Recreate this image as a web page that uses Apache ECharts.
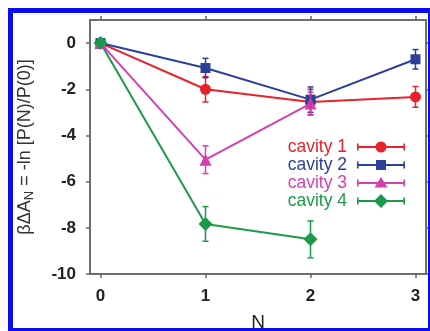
<!DOCTYPE html>
<html>
<head>
<meta charset="utf-8">
<script src="https://cdn.jsdelivr.net/npm/echarts@6/dist/echarts.min.js"></script>
<style>
html, body { margin: 0; padding: 0; background: #fff; }
#chart { width: 430px; height: 331px; }
#frame { position: absolute; left: 8px; top: 8px; width: 415px; height: 315px; border: 5px solid #0b0bf0; pointer-events: none; }
</style>
</head>
<body>
<div id="chart"></div>
<div id="frame"></div>
<script>
var nValues = [0, 1, 2, 3];
var xTicks = [0, 1, 2, 3];
var yTicks = [-10, -8, -6, -4, -2, 0];
var seriesNames = ['cavity 1', 'cavity 2', 'cavity 3', 'cavity 4'];
var cavity1 = [0, -2.0, -2.55, -2.33];
var cavity1Err = [0, 0.55, 0.55, 0.45];
var cavity2 = [0, -1.08, -2.45, -0.7];
var cavity2Err = [0, 0.42, 0.55, 0.42];
var cavity3 = [0, -5.05, -2.62];
var cavity3Err = [0, 0.6, 0.5];
var cavity4 = [0, -7.83, -8.5];
var cavity4Err = [0, 0.75, 0.8];

var colors = ['#e8222a', '#2d3f98', '#d63fae', '#1c9a4a'];
var font = "'Liberation Sans', Arial, sans-serif";

// legend icons: line with end caps and the marker in the middle
var base = 'M0,0 M53,14 M5,6 L53,6 L53,8 L5,8 Z M5,3.5 L6.6,3.5 L6.6,10.5 L5,10.5 Z M51.4,3.5 L53,3.5 L53,10.5 L51.4,10.5 Z ';
var icons = [
  'path://' + base + 'M23.5,7 A5.5,5.5 0 1,1 34.5,7 A5.5,5.5 0 1,1 23.5,7 Z',
  'path://' + base + 'M24,2 L34,2 L34,12 L24,12 Z',
  'path://' + base + 'M29,1 L35.5,11.5 L22.5,11.5 Z',
  'path://' + base + 'M29,0 L36,7 L29,14 L22,7 Z'
];
var symbols = ['circle', 'rect', 'triangle', 'diamond'];
var symbolSizes = [11, 10, 12, 14];

function pairs(values) {
  var out = [];
  for (var i = 0; i < values.length; i++) out.push([nValues[i], values[i]]);
  return out;
}

function lineSeries(i, values) {
  return {
    type: 'line',
    name: seriesNames[i],
    data: pairs(values),
    symbol: symbols[i],
    symbolSize: symbolSizes[i],
    xAxisIndex: 0,
    yAxisIndex: 0,
    lineStyle: { width: 2, color: colors[i] },
    itemStyle: { color: colors[i] },
    z: 2
  };
}

function errorBars(i, values, errs) {
  var data = [];
  for (var k = 0; k < values.length; k++) {
    if (errs[k] > 0) data.push([nValues[k], values[k] - errs[k], values[k] + errs[k]]);
  }
  var color = colors[i];
  return {
    type: 'custom',
    name: seriesNames[i] + ' err',
    data: data,
    silent: true,
    z: 3,
    xAxisIndex: 0,
    yAxisIndex: 0,
    encode: { x: 0, y: [1, 2] },
    renderItem: function (params, api) {
      var lo = api.coord([api.value(0), api.value(1)]);
      var hi = api.coord([api.value(0), api.value(2)]);
      var w = 3;
      var st = { stroke: color, lineWidth: 1.5, fill: null };
      return {
        type: 'group',
        children: [
          { type: 'line', shape: { x1: lo[0], y1: lo[1], x2: hi[0], y2: hi[1] }, style: st },
          { type: 'line', shape: { x1: lo[0] - w, y1: lo[1], x2: lo[0] + w, y2: lo[1] }, style: st },
          { type: 'line', shape: { x1: hi[0] - w, y1: hi[1], x2: hi[0] + w, y2: hi[1] }, style: st }
        ]
      };
    }
  };
}

var axisLine = { show: true, onZero: false, lineStyle: { color: '#666', width: 1.5 } };
var tickStyle = { color: '#666', width: 1.5 };
var labelStyle = { fontSize: 17, fontWeight: 'bold', color: '#222', fontFamily: font };

var chart = echarts.init(document.getElementById('chart'));
var option = {
  animation: false,
  grid: {
    left: 90, top: 20, right: 4, bottom: 57,
    outerBoundsMode: 'none', containLabel: false,
    show: true, borderColor: '#666', borderWidth: 1.5
  },
  xAxis: [
    {
      type: 'value', min: -0.1, max: 3.1, position: 'bottom',
      axisLine: axisLine,
      axisTick: { show: true, inside: false, length: 4, customValues: xTicks, lineStyle: tickStyle },
      axisLabel: Object.assign({ customValues: xTicks, margin: 14 }, labelStyle),
      splitLine: { show: false },
      name: 'N', nameLocation: 'middle', nameGap: 39,
      nameTextStyle: { fontSize: 19, color: '#222', fontFamily: font }
    },
    {
      type: 'value', min: -0.1, max: 3.1, position: 'top',
      axisLine: axisLine,
      axisTick: { show: true, inside: false, length: 4, customValues: xTicks, lineStyle: tickStyle },
      axisLabel: { show: false },
      splitLine: { show: false }
    }
  ],
  yAxis: [
    {
      type: 'value', min: -10, max: 1, position: 'left',
      axisLine: axisLine,
      axisTick: { show: true, inside: false, length: 4, customValues: yTicks, lineStyle: tickStyle },
      axisLabel: Object.assign({ customValues: yTicks, margin: 14 }, labelStyle),
      splitLine: { show: false },
      name: '{a|βΔA}{s|N}{a| = -ln [P(N)/P(0)]}',
      nameLocation: 'middle', nameGap: 54,
      nameTextStyle: {
        color: '#333', fontFamily: font, fontSize: 18,
        rich: {
          a: { fontSize: 18, color: '#333', fontFamily: font, lineHeight: 21 },
          s: { fontSize: 13, color: '#333', fontFamily: font, lineHeight: 13, verticalAlign: 'bottom' }
        }
      }
    },
    {
      type: 'value', min: -10, max: 1, position: 'right',
      axisLine: axisLine,
      axisTick: { show: true, inside: false, length: 4, customValues: yTicks, lineStyle: tickStyle },
      axisLabel: { show: false },
      splitLine: { show: false }
    }
  ],
  legend: {
    orient: 'vertical', right: 20, top: 133, align: 'right',
    itemWidth: 53, itemHeight: 14, itemGap: 0,
    itemStyle: { borderWidth: 0 },
    textStyle: { fontSize: 17.5, fontFamily: font, lineHeight: 17.5 },
    data: seriesNames.map(function (n, i) {
      return { name: n, icon: icons[i], itemStyle: { color: colors[i] }, textStyle: { color: colors[i] } };
    })
  },
  series: [
    lineSeries(0, cavity1),
    lineSeries(1, cavity2),
    lineSeries(2, cavity3),
    lineSeries(3, cavity4),
    errorBars(0, cavity1, cavity1Err),
    errorBars(1, cavity2, cavity2Err),
    errorBars(2, cavity3, cavity3Err),
    errorBars(3, cavity4, cavity4Err)
  ]
};
chart.setOption(option);
</script>
</body>
</html>
